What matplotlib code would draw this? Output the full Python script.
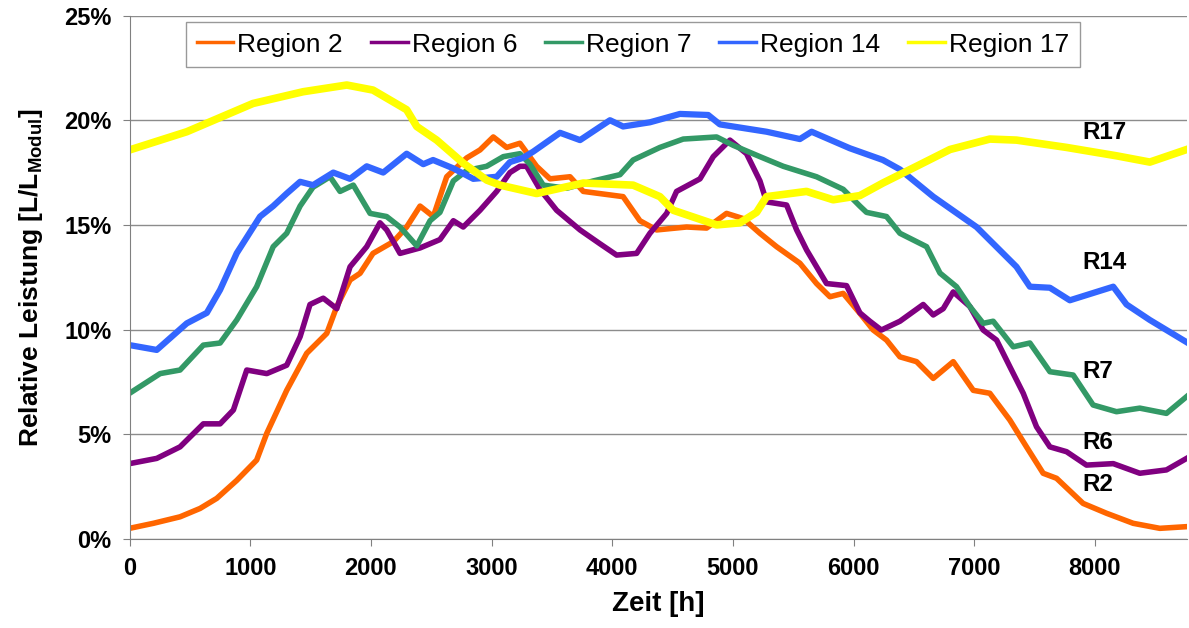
import numpy as np
from matplotlib import pyplot as plt
from matplotlib.ticker import PercentFormatter

plt.rcParams['font.family'] = ['Liberation Sans', 'DejaVu Sans']
plt.rcParams['mathtext.fontset'] = 'custom'
plt.rcParams['mathtext.rm'] = 'Liberation Sans'
plt.rcParams['mathtext.bf'] = 'Liberation Sans:bold'

# Region 2
t_r2 = [0, 197, 418, 584, 722, 888, 1053, 1137, 1302, 1468, 1634, 1717, 1827, 1910, 2017, 2186,
        2296, 2407, 2517, 2628, 2794, 2904, 3014, 3125, 3235, 3373, 3484, 3650, 3760, 4090, 4229,
        4368, 4616, 4782, 4947, 5086, 5224, 5362, 5555, 5693, 5804, 5914, 6052, 6163, 6273, 6384,
        6522, 6660, 6826, 6992, 7129, 7295, 7433, 7571, 7682, 7902, 8096, 8317, 8538, 8760]
r2 = [0.51, 0.75, 1.06, 1.46, 1.94, 2.8, 3.77, 5.05, 7.1, 8.87, 9.82, 11.1, 12.37, 12.69, 13.64, 14.2,
      14.9, 15.9, 15.4, 17.3, 18.2, 18.58, 19.2, 18.7, 18.9, 17.8, 17.2, 17.3, 16.6, 16.35, 15.2,
      14.76, 14.9, 14.85, 15.55, 15.3, 14.6, 13.96, 13.17, 12.2, 11.57, 11.73, 10.78, 9.98, 9.5, 8.7,
      8.47, 7.67, 8.47, 7.1, 6.96, 5.68, 4.4, 3.14, 2.9, 1.7, 1.23, 0.75, 0.51, 0.59]

# Region 6
t_r6 = [0, 225, 418, 611, 750, 860, 971, 1137, 1302, 1413, 1495, 1605, 1717, 1827, 1965, 2075, 2131,
        2241, 2407, 2572, 2683, 2765, 2904, 3042, 3152, 3235, 3290, 3400, 3539, 3733, 3898, 4036,
        4202, 4312, 4451, 4533, 4727, 4837, 4975, 5113, 5224, 5279, 5445, 5528, 5611, 5776, 5942,
        6052, 6135, 6230, 6384, 6577, 6660, 6743, 6826, 6964, 7074, 7185, 7295, 7406, 7516, 7627,
        7765, 7930, 8152, 8372, 8593, 8760]
r6 = [3.6, 3.85, 4.4, 5.5, 5.5, 6.16, 8.07, 7.9, 8.3, 9.66, 11.2, 11.5, 11.0, 13.0, 13.96, 15.1, 14.76,
      13.64, 13.9, 14.3, 15.2, 14.9, 15.7, 16.6, 17.5, 17.8, 17.8, 16.7, 15.7, 14.76, 14.1, 13.56,
      13.64, 14.6, 15.55, 16.6, 17.2, 18.26, 19.05, 18.4, 17.1, 16.1, 15.95, 14.76, 13.8, 12.2, 12.1,
      10.8, 10.4, 9.98, 10.4, 11.2, 10.7, 11.0, 11.8, 11.1, 9.98, 9.5, 8.23, 6.96, 5.36, 4.4,
      4.17, 3.53, 3.6, 3.14, 3.3, 3.85]

# Region 7
t_r7 = [0, 253, 418, 611, 750, 888, 1053, 1190, 1302, 1413, 1520, 1661, 1744, 1854, 1993, 2130, 2241,
        2380, 2490, 2572, 2683, 2794, 2959, 3097, 3235, 3318, 3428, 3622, 3843, 4064, 4173, 4395,
        4588, 4865, 5003, 5224, 5417, 5693, 5914, 6052, 6107, 6273, 6384, 6605, 6716, 6853, 6964,
        7074, 7157, 7323, 7461, 7627, 7820, 7985, 8179, 8372, 8593, 8760]
r7 = [6.96, 7.9, 8.07, 9.26, 9.36, 10.46, 12.05, 13.96, 14.6, 15.9, 16.8, 17.3, 16.6, 16.9, 15.55, 15.4, 14.9,
      14.0, 15.2, 15.6, 17.1, 17.6, 17.8, 18.26, 18.4, 17.9, 16.9, 16.75, 17.1, 17.4, 18.1, 18.7,
      19.1, 19.2, 18.8, 18.26, 17.8, 17.3, 16.7, 15.9, 15.6, 15.4, 14.6, 13.96, 12.7, 12.05, 11.1,
      10.3, 10.4, 9.18, 9.36, 7.99, 7.83, 6.4, 6.08, 6.25, 6.0, 6.8]

# Region 14
t_r14 = [0, 225, 474, 640, 750, 888, 1081, 1190, 1302, 1413, 1520, 1688, 1827, 1965, 2102, 2296, 2434,
         2515, 2683, 2848, 3042, 3152, 3260, 3345, 3567, 3733, 3981, 4090, 4312, 4561, 4795, 4892,
         5279, 5555, 5652, 5969, 6243, 6384, 6660, 7019, 7350, 7461, 7627, 7792, 7958, 8152, 8262,
         8455, 8760]
r14 = [9.26, 9.03, 10.3, 10.8, 11.9, 13.65, 15.4, 15.9, 16.5, 17.06, 16.9, 17.5, 17.2, 17.8, 17.5, 18.4, 17.9,
       18.1, 17.7, 17.2, 17.3, 18.0, 18.2, 18.5, 19.4, 19.05, 20.0, 19.7, 19.9, 20.3, 20.25, 19.8,
       19.45, 19.1, 19.45, 18.66, 18.1, 17.65, 16.35, 14.9, 13.0, 12.05, 12.0, 11.4, 11.7, 12.05, 11.2,
       10.46, 9.4]

# Region 17
t_r17 = [0, 474, 1023, 1438, 1800, 2017, 2296, 2380, 2545, 2765, 2960, 3070, 3373, 3760, 4173, 4395,
         4505, 4865, 5058, 5196, 5279, 5610, 5831, 6052, 6243, 6522, 6798, 7129, 7350, 7765, 8179,
         8455, 8760]
r17 = [18.58, 19.45, 20.8, 21.36, 21.68, 21.44, 20.5, 19.7, 19.05, 17.95, 17.14, 16.9, 16.5, 17.0, 16.9, 16.35,
       15.7, 15.0, 15.1, 15.6, 16.35, 16.6, 16.2, 16.4, 17.0, 17.8, 18.6, 19.1, 19.05, 18.7, 18.3,
       18.0, 18.6]

fig = plt.figure(figsize=(11.89, 6.28), dpi=100)
ax = fig.add_axes([0.109, 0.1417, 0.889, 0.8336])

ax.plot(t_r2, r2, color='#FF6600', linewidth=4, label='Region 2')
ax.plot(t_r6, r6, color='#800080', linewidth=4, label='Region 6')
ax.plot(t_r7, r7, color='#339966', linewidth=4, label='Region 7')
ax.plot(t_r14, r14, color='#3366FF', linewidth=4.5, label='Region 14')
ax.plot(t_r17, r17, color='#FFFF00', linewidth=5.5, label='Region 17')

# Beschriftung am rechten Rand
ax.text(7900, 19.4, 'R17', fontsize=17.5, fontweight='bold', va='center')
ax.text(7900, 13.2, 'R14', fontsize=17.5, fontweight='bold', va='center')
ax.text(7900, 8.0, 'R7', fontsize=17.5, fontweight='bold', va='center')
ax.text(7900, 4.6, 'R6', fontsize=17.5, fontweight='bold', va='center')
ax.text(7900, 2.6, 'R2', fontsize=17.5, fontweight='bold', va='center')

ax.set_xlim(0, 8760)
ax.set_ylim(0, 25)
ax.set_xticks(np.arange(0, 8001, 1000))
ax.set_yticks(np.arange(0, 26, 5))
ax.yaxis.set_major_formatter(PercentFormatter(decimals=0))
ax.grid(axis='y', color='#8c8c8c', linewidth=1)
ax.set_axisbelow(True)
for s in ['top', 'right']:
    ax.spines[s].set_visible(False)
for s in ['left', 'bottom']:
    ax.spines[s].set_color('#808080')
ax.tick_params(direction='out', length=5, color='#808080', labelsize=17, pad=8)
for lab in ax.get_xticklabels() + ax.get_yticklabels():
    lab.set_fontweight('bold')

ax.set_xlabel('Zeit [h]', fontsize=20, fontweight='bold', labelpad=8)
ax.set_ylabel(r'Relative Leistung [L/L$_{\mathbf{Modul}}$]', fontsize=19, fontweight='bold', labelpad=14)

leg = ax.legend(loc='upper center', bbox_to_anchor=(0.476, 0.9876), ncol=5, fontsize=19,
                frameon=True, fancybox=False, edgecolor='#808080', handlelength=1.4,
                handletextpad=0.15, columnspacing=1.05, borderpad=0.4, borderaxespad=0)
for line in leg.get_lines():
    line.set_linewidth(2.5)
leg.get_frame().set_linewidth(1)

plt.savefig('out.png', dpi=100)
